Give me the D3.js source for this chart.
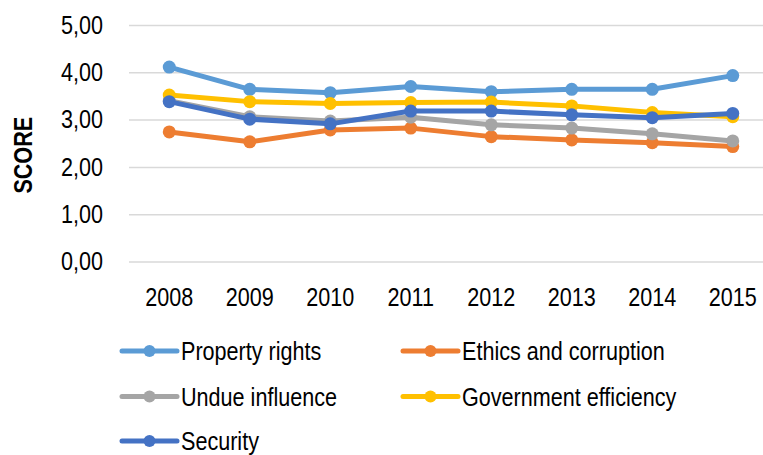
<!DOCTYPE html>
<html>
<head>
<meta charset="utf-8">
<script src="https://cdnjs.cloudflare.com/ajax/libs/d3/7.8.5/d3.min.js"></script>
<style>
  body { margin: 0; background: #fff; }
  svg text { font-family: "Liberation Sans", Arial, sans-serif; fill: #000; }
</style>
</head>
<body>
<script>
const years = ["2008", "2009", "2010", "2011", "2012", "2013", "2014", "2015"];
const yTicks = [0, 1, 2, 3, 4, 5];

const propertyRights = [4.11, 3.64, 3.57, 3.70, 3.59, 3.64, 3.64, 3.93];
const ethicsCorruption = [2.74, 2.53, 2.78, 2.82, 2.64, 2.57, 2.51, 2.43];
const undueInfluence = [3.40, 3.06, 2.97, 3.05, 2.89, 2.82, 2.70, 2.55];
const govEfficiency = [3.52, 3.38, 3.34, 3.36, 3.37, 3.29, 3.15, 3.06];
const security = [3.38, 3.01, 2.91, 3.18, 3.18, 3.10, 3.04, 3.13];

const series = [
  {name: "Property rights", values: propertyRights, color: "#5B9BD5"},
  {name: "Ethics and corruption", values: ethicsCorruption, color: "#ED7D31"},
  {name: "Undue influence", values: undueInfluence, color: "#A5A5A5"},
  {name: "Government efficiency", values: govEfficiency, color: "#FFC000"},
  {name: "Security", values: security, color: "#4472C4"}
];

const width = 763, height = 455;
const margin = {top: 25, left: 129, right: -10, bottom: 193.5};
const fontSize = 26;
const narrow = 0.83; // the original uses a condensed face

const svg = d3.select("body").append("svg")
  .attr("width", width)
  .attr("height", height);

const x = d3.scaleBand()
  .domain(years)
  .range([margin.left, width - margin.right]);

const y = d3.scaleLinear()
  .domain([0, 5])
  .range([height - margin.bottom, margin.top]);

const locale = d3.formatLocale({decimal: ",", thousands: ".", grouping: [3], currency: ["", " €"]});
const fmt = locale.format(".2f");

// gridlines + y labels
const yAxis = svg.append("g")
  .attr("transform", `translate(${margin.left},0)`)
  .call(d3.axisLeft(y).tickValues(yTicks).tickFormat(fmt).tickSize(-(width - margin.left)).tickPadding(26));
yAxis.select(".domain").remove();
yAxis.selectAll(".tick line").attr("stroke", "#d9d9d9").attr("stroke-width", 1.5);
yAxis.selectAll(".tick text").attr("font-size", fontSize).attr("fill", "#000");

// x labels
const xAxis = svg.append("g")
  .attr("transform", `translate(0,${y(0)})`)
  .call(d3.axisBottom(x).tickSize(0).tickPadding(26));
xAxis.select(".domain").remove();
xAxis.selectAll(".tick text").attr("font-size", fontSize).attr("fill", "#000");

svg.append("text")
  .attr("transform", `translate(23,${(y(0) + y(5)) / 2 + 12}) rotate(-90)`)
  .attr("text-anchor", "middle")
  .attr("dy", "0.35em")
  .attr("font-size", fontSize)
  .attr("font-weight", "bold")
  .text("SCORE");

const line = d3.line()
  .x((d, i) => x(years[i]) + x.bandwidth() / 2)
  .y(d => y(d));

series.forEach(s => {
  const g = svg.append("g");
  g.append("path")
    .attr("d", line(s.values))
    .attr("fill", "none")
    .attr("stroke", s.color)
    .attr("stroke-width", 5)
    .attr("stroke-linejoin", "round")
    .attr("stroke-linecap", "round");
  g.selectAll("circle")
    .data(s.values)
    .enter()
      .append("circle")
      .attr("cx", (d, i) => x(years[i]) + x.bandwidth() / 2)
      .attr("cy", d => y(d))
      .attr("r", 6.5)
      .attr("fill", s.color);
});

// legend
const legendPos = [[122, 351], [403, 351], [122, 396.5], [403, 396.5], [122, 441]];
series.forEach((s, i) => {
  const [lx, ly] = legendPos[i];
  const lg = svg.append("g").attr("transform", `translate(${lx},${ly})`);
  lg.append("line")
    .attr("x1", 0).attr("x2", 55)
    .attr("stroke", s.color)
    .attr("stroke-width", 5)
    .attr("stroke-linecap", "round");
  lg.append("circle").attr("cx", 27.5).attr("r", 6).attr("fill", s.color);
  lg.append("text")
    .attr("x", 59)
    .attr("dy", "0.35em")
    .attr("font-size", fontSize)
    .text(s.name);
});

// squeeze every label to mimic the narrow font
svg.selectAll("text").each(function() {
  const w = this.getComputedTextLength();
  d3.select(this)
    .attr("textLength", w * narrow)
    .attr("lengthAdjust", "spacingAndGlyphs");
});
</script>
</body>
</html>
